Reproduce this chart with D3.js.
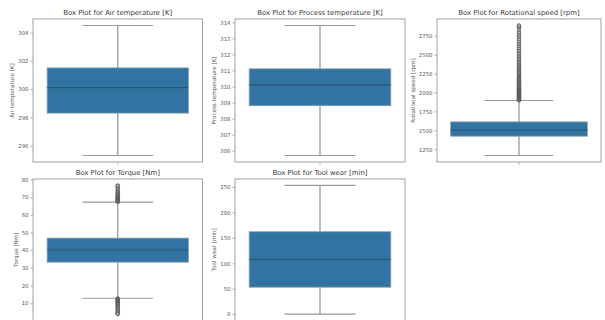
<!DOCTYPE html>
<html>
<head>
<meta charset="utf-8">
<script src="https://cdn.jsdelivr.net/npm/d3@7"></script>
<style>
  html, body { margin: 0; padding: 0; background: #fff; }
  svg { display: block; font-family: "DejaVu Sans", sans-serif; }
</style>
</head>
<body>
<svg id="chart" width="605" height="320"></svg>
<script>
// Sensor variables of the machine dataset
const variables = ["Air temperature [K]", "Process temperature [K]", "Rotational speed [rpm]", "Torque [Nm]", "Tool wear [min]"];

// Box statistics per variable
const whiskerLow  = [295.3, 305.7, 1168, 12.8, 0];
const q1          = [298.3, 308.8, 1423, 33.2, 53];
const medians     = [300.1, 310.1, 1503, 40.1, 108];
const q3          = [301.5, 311.1, 1612, 46.8, 162];
const whiskerHigh = [304.5, 313.8, 1895, 67.2, 253];

// Points beyond 1.5 IQR
const airOutliers = [];
const processOutliers = [];
const speedOutliers = [1897, 1904, 1912, 1920, 1928, 1935, 1943, 1950, 1958, 1966, 1975, 1984, 1993,
  2002, 2012, 2021, 2030, 2041, 2052, 2063, 2075, 2086, 2097, 2110, 2122, 2135, 2148, 2161, 2175,
  2189, 2204, 2218, 2233, 2248, 2264, 2280, 2296, 2312, 2330, 2348, 2366, 2385, 2404, 2423, 2443,
  2463, 2484, 2505, 2527, 2549, 2571, 2594, 2617, 2640, 2663, 2686, 2710, 2737, 2760, 2784, 2806,
  2833, 2858, 2874, 2886];
const torqueOutliers = [67.3, 67.6, 67.9, 68.2, 68.5, 68.9, 69.3, 69.7, 70.0, 70.5, 71.0, 71.6, 72.2,
  72.8, 73.6, 74.5, 75.4, 76.2, 76.6,
  12.7, 12.4, 12.1, 11.8, 11.5, 11.1, 10.7, 10.3, 9.8, 9.3, 8.8, 8.2, 7.6, 7.0, 6.3, 5.6, 4.8, 4.2, 3.8];
const wearOutliers = [];
const outliers = [airOutliers, processOutliers, speedOutliers, torqueOutliers, wearOutliers];

// Y tick values per panel
const yTicks = [
  [296, 298, 300, 302, 304],
  [306, 307, 308, 309, 310, 311, 312, 313, 314],
  [1250, 1500, 1750, 2000, 2250, 2500, 2750],
  [10, 20, 30, 40, 50, 60, 70, 80],
  [0, 50, 100, 150, 200, 250]
];

// Panel frames (2 x 3 grid, last cell empty)
const colX = [[33, 202.5], [235, 405], [437, 601]];
const rowY = [[19, 162], [179, 320.6]];

const svg = d3.select("#chart");
const boxFill = "#3274a1";
const lineColor = "#9a9a9a";

variables.forEach((name, i) => {
  const col = i % 3, row = Math.floor(i / 3);
  const [x0, x1] = colX[col];
  const [y0, y1] = rowY[row];

  const lo = d3.min([whiskerLow[i], ...outliers[i]]);
  const hi = d3.max([whiskerHigh[i], ...outliers[i]]);
  const pad = (hi - lo) * 0.05;
  const y = d3.scaleLinear().domain([lo - pad, hi + pad]).range([y1, y0]);
  const x = d3.scaleBand().domain([name]).range([x0, x1]).paddingInner(0).paddingOuter(0.1);

  const g = svg.append("g");

  // Title
  g.append("text")
    .attr("x", (x0 + x1) / 2).attr("y", y0 - 4.5)
    .attr("text-anchor", "middle")
    .attr("font-size", 6.9).attr("fill", "#3a3a3a")
    .text("Box Plot for " + name);

  // Y axis
  const yAxis = d3.axisLeft(y).tickValues(yTicks[i]).tickSize(2.5).tickPadding(2).tickFormat(d => String(d));
  const ag = g.append("g").attr("transform", `translate(${x0},0)`).call(yAxis);
  ag.select(".domain").remove();
  ag.selectAll(".tick line").attr("stroke", "#888").attr("stroke-width", 0.7);
  ag.selectAll(".tick text").attr("font-size", 5.4).attr("fill", "#5a5a5a").attr("font-family", "DejaVu Sans, sans-serif");

  // Y label, placed left of the widest tick label
  let maxW = 0;
  ag.selectAll(".tick text").each(function () { maxW = Math.max(maxW, this.getBBox().width); });
  g.append("text")
    .attr("transform", `translate(${x0 - 4.5 - maxW - 3.5},${(y0 + y1) / 2}) rotate(-90)`)
    .attr("text-anchor", "middle")
    .attr("font-size", 5.6).attr("fill", "#5a5a5a")
    .text(name);

  // Bottom center tick
  const cx = x(name) + x.bandwidth() / 2;
  g.append("line").attr("x1", cx).attr("x2", cx).attr("y1", y1).attr("y2", y1 + 2.5)
    .attr("stroke", "#888").attr("stroke-width", 0.7);

  const bx = x(name), bw = x.bandwidth();
  const capHalf = bw * 0.25;

  // Whiskers
  g.append("line").attr("x1", cx).attr("x2", cx).attr("y1", y(q3[i])).attr("y2", y(whiskerHigh[i]))
    .attr("stroke", lineColor).attr("stroke-width", 1.3);
  g.append("line").attr("x1", cx).attr("x2", cx).attr("y1", y(q1[i])).attr("y2", y(whiskerLow[i]))
    .attr("stroke", lineColor).attr("stroke-width", 1.3);
  [whiskerLow[i], whiskerHigh[i]].forEach(v => {
    g.append("line").attr("x1", cx - capHalf).attr("x2", cx + capHalf).attr("y1", y(v)).attr("y2", y(v))
      .attr("stroke", lineColor).attr("stroke-width", 1.2);
  });

  // Box
  g.append("rect")
    .attr("x", bx).attr("width", bw)
    .attr("y", y(q3[i])).attr("height", y(q1[i]) - y(q3[i]))
    .attr("fill", boxFill).attr("stroke", "#86a0b3").attr("stroke-width", 0.8);

  // Median
  g.append("line").attr("x1", bx).attr("x2", bx + bw).attr("y1", y(medians[i])).attr("y2", y(medians[i]))
    .attr("stroke", "#2a5677").attr("stroke-width", 1.1);

  // Outliers
  g.selectAll("circle.out").data(outliers[i]).join("circle")
    .attr("class", "out")
    .attr("cx", cx).attr("cy", d => y(d)).attr("r", 1.8)
    .attr("fill", "none").attr("stroke", "#5a5a5a").attr("stroke-width", 0.8);

  // Frame
  g.append("rect")
    .attr("x", x0).attr("y", y0).attr("width", x1 - x0).attr("height", y1 - y0)
    .attr("fill", "none").attr("stroke", "#a0a0a0").attr("stroke-width", 1);
});
</script>
</body>
</html>
